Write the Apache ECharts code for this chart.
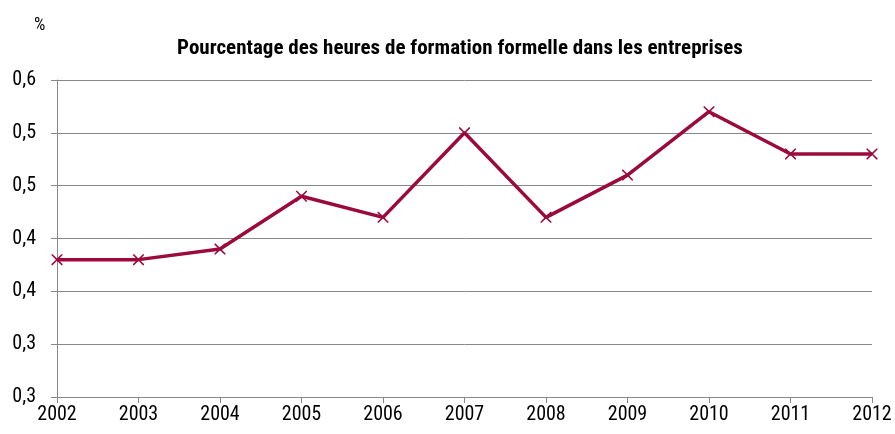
<!DOCTYPE html>
<html>
<head>
<meta charset="utf-8">
<script src="https://cdn.jsdelivr.net/npm/echarts@6/dist/echarts.min.js"></script>
<style>
  html, body { margin: 0; padding: 0; background: #fff; }
  #chart { width: 895px; height: 434px; }
</style>
</head>
<body>
<div id="chart"></div>
<script>
// données
var years = ['2002', '2003', '2004', '2005', '2006', '2007', '2008', '2009', '2010', '2011', '2012'];
var heures = [0.43, 0.43, 0.44, 0.49, 0.47, 0.55, 0.47, 0.51, 0.57, 0.53, 0.53];
var yTickLabels = ['0,3', '0,3', '0,4', '0,4', '0,5', '0,5', '0,6'];

var font = '"Liberation Sans Narrow", "Arial Narrow", "Roboto Condensed", sans-serif';
var cross = 'path://M0,0L1,0L5,4L9,0L10,0L10,1L6,5L10,9L10,10L9,10L5,6L1,10L0,10L0,9L4,5L0,1Z';

var chart = echarts.init(document.getElementById('chart'));
chart.setOption({
  animation: false,
  textStyle: { fontFamily: font },
  title: [
    {
      text: 'Pourcentage des heures de formation formelle dans les entreprises',
      left: 455, top: 33, textAlign: 'center',
      textStyle: { fontFamily: font, fontSize: 21, fontWeight: 'bold', color: '#000' }
    },
    {
      text: '%', left: 29, top: 11,
      textStyle: { fontFamily: font, fontSize: 18, fontWeight: 'normal', color: '#000' }
    }
  ],
  grid: { left: 57, right: 23, top: 80, bottom: 37 },
  xAxis: {
    type: 'category',
    data: years,
    boundaryGap: false,
    axisLine: { lineStyle: { color: '#888', width: 1 } },
    axisTick: { show: true, alignWithLabel: true, length: 6, lineStyle: { color: '#888' } },
    axisLabel: { color: '#000', fontSize: 20, margin: 8, fontFamily: font },
    splitLine: { show: false }
  },
  yAxis: {
    type: 'value',
    min: 0.30, max: 0.60, interval: 0.05,
    axisLine: { show: true, lineStyle: { color: '#888', width: 1 } },
    axisTick: { show: true, length: 6, lineStyle: { color: '#888' } },
    axisLabel: {
      color: '#000', fontSize: 20, margin: 21, fontFamily: font,
      formatter: function (v) { return yTickLabels[Math.round((v - 0.30) / 0.05)]; }
    },
    splitLine: { lineStyle: { color: '#888', width: 1 } }
  },
  series: [{
    type: 'line',
    data: heures,
    symbol: cross,
    symbolSize: 11,
    showAllSymbol: true,
    lineStyle: { color: '#9b0a3b', width: 3.5 },
    itemStyle: { color: '#9b0a3b' }
  }]
});
</script>
</body>
</html>
